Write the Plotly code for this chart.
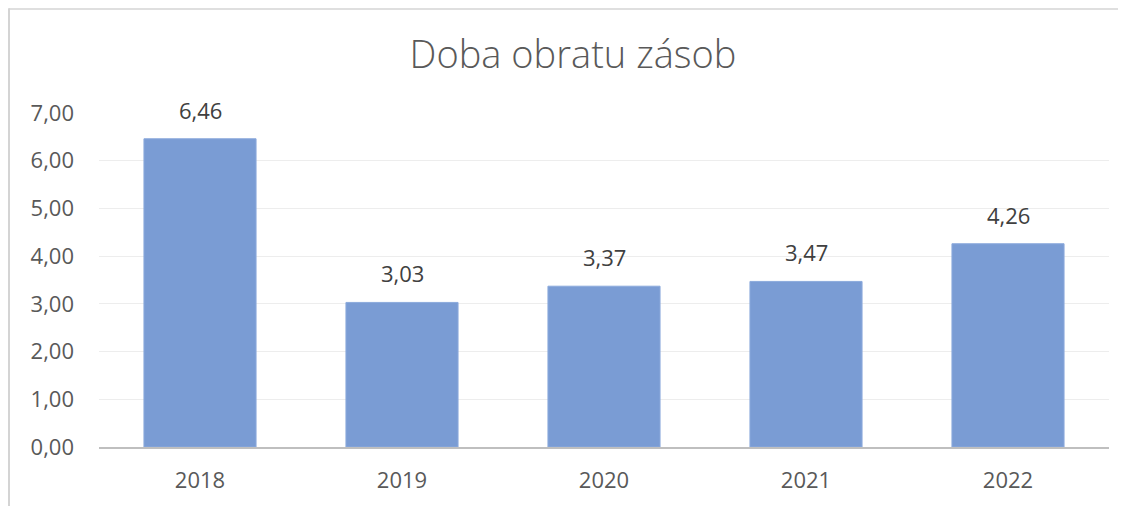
import plotly.graph_objects as go

categories = ["2018", "2019", "2020", "2021", "2022"]
values = [6.46, 3.03, 3.37, 3.47, 4.26]
y_ticks = [0, 1, 2, 3, 4, 5, 6, 7]
title_text = "Doba obratu zásob"

def fmt(v):
    return f"{v:.2f}".replace(".", ",")

# page body has an 8px margin, so the figure is drawn 8px smaller
W, H = 1118, 498
L, R, T, B = 91, 17, 105, 58.5
pw, ph = W - L - R, H - T - B

def px_x(p):
    return (p - L) / pw

def px_y(p):
    return (H - B - p) / ph

FONT = "Open Sans"

fig = go.Figure()
fig.add_trace(go.Bar(
    x=categories, y=values,
    marker=dict(color="rgb(122,156,212)", line=dict(color="rgb(140,170,220)", width=1)),
    hoverinfo="skip",
))

# category axis: annotation x uses the category serial number
for i, v in enumerate(values):
    fig.add_annotation(
        x=i, y=v, xref="x", yref="y",
        text=fmt(v),
        showarrow=False, yanchor="bottom", yshift=12,
        font=dict(family=FONT, size=22, color="#404040"),
    )

fig.add_shape(type="line", xref="paper", yref="paper",
              x0=px_x(1), x1=px_x(1), y0=px_y(0), y1=px_y(H + 5),
              line=dict(color="#D4D4D4", width=2))
fig.add_shape(type="line", xref="paper", yref="paper",
              x0=px_x(1), x1=px_x(W + 5), y0=px_y(0.75), y1=px_y(0.75),
              line=dict(color="#D4D4D4", width=1.5))

fig.update_layout(
    width=W, height=H,
    margin=dict(l=L, r=R, t=T, b=B, pad=0),
    paper_bgcolor="white", plot_bgcolor="white",
    showlegend=False,
    bargap=0.445,
    title=dict(text=title_text, x=px_x(565), xanchor="center", xref="paper",
               y=1 - 47 / H, yanchor="middle",
               font=dict(family=FONT, size=38, color="#595959", weight=300)),
    xaxis=dict(type="category", range=[-0.5, len(categories) - 0.5],
               showgrid=False, showline=True,
               linecolor="#BFBFBF", linewidth=2,
               ticks="", ticklabelstandoff=13,
               tickfont=dict(family=FONT, size=22, color="#595959")),
    yaxis=dict(range=[0, 7], tickvals=y_ticks, ticktext=[fmt(t) for t in y_ticks],
               showgrid=True, gridcolor="#EDEDED", gridwidth=1,
               zeroline=False, showline=False, ticks="",
               ticklabelstandoff=24,
               tickfont=dict(family=FONT, size=22, color="#595959")),
)

fig.write_html("out.html")
